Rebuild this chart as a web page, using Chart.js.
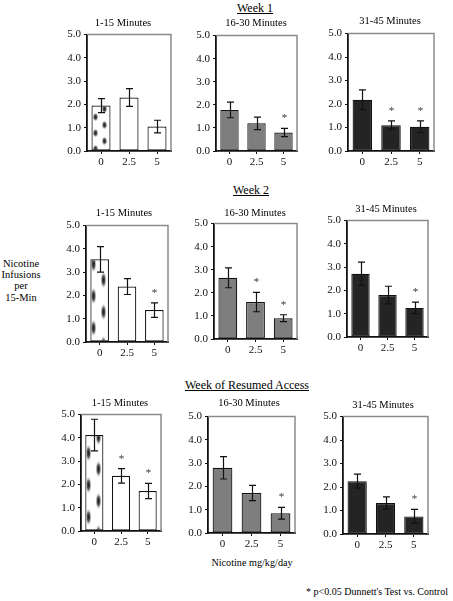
<!DOCTYPE html>
<html>
<head>
<meta charset="utf-8">
<script src="https://cdn.jsdelivr.net/npm/chart.js@4.4.1/dist/chart.umd.min.js"></script>
<style>
  html, body { margin:0; padding:0; background:#fff; }
  body { width:453px; height:601px; position:relative; overflow:hidden; font-family:"Liberation Serif","Times New Roman",serif; color:#000; }
  canvas { position:absolute; }
  .t { position:absolute; white-space:nowrap; transform:translate(-50%,-50%); line-height:1; }
  .hdr { font-size:12px; text-decoration:underline; }
  .pt { font-size:10.5px; }
</style>
</head>
<body>
<div class="t hdr" style="left:255px;top:8px;">Week 1</div>
<div class="t hdr" style="left:251px;top:190px;">Week 2</div>
<div class="t hdr" style="left:247px;top:385px;">Week of Resumed Access</div>
<div class="t" style="left:21px;top:280px;font-size:10.5px;text-align:center;line-height:11.2px;">Nicotine<br>Infusions<br>per<br>15-Min</div>
<div class="t" style="left:252px;top:563px;font-size:10.2px;">Nicotine mg/kg/day</div>
<div class="t" style="left:377px;top:592px;font-size:10px;">* p&lt;0.05 Dunnett's Test vs. Control</div>

<script>
// ---------- data ----------
const doses = ['0', '2.5', '5'];
const yTickValues = [0, 1, 2, 3, 4, 5];
const periods = ['1-15 Minutes', '16-30 Minutes', '31-45 Minutes'];

const week1_1to15  = [1.95, 2.30, 1.05];
const week1_1to15_sem  = [0.30, 0.38, 0.27];
const week1_16to30 = [1.78, 1.20, 0.80];
const week1_16to30_sem = [0.34, 0.27, 0.18];
const week1_31to45 = [2.18, 1.10, 1.03];
const week1_31to45_sem = [0.42, 0.18, 0.25];

const week2_1to15  = [3.55, 2.38, 1.37];
const week2_1to15_sem  = [0.55, 0.34, 0.31];
const week2_16to30 = [2.65, 1.60, 0.90];
const week2_16to30_sem = [0.43, 0.42, 0.15];
const week2_31to45 = [2.72, 1.80, 1.25];
const week2_31to45_sem = [0.50, 0.38, 0.25];

const resumed_1to15  = [4.12, 2.37, 1.72];
const resumed_1to15_sem  = [0.68, 0.31, 0.33];
const resumed_16to30 = [2.80, 1.72, 0.85];
const resumed_16to30_sem = [0.48, 0.33, 0.25];
const resumed_31to45 = [2.25, 1.32, 0.75];
const resumed_31to45_sem = [0.30, 0.26, 0.30];

// significance vs control (p<0.05)
const week1_sig   = [[false,false,false],[false,false,true],[false,true,true]];
const week2_sig   = [[false,false,true],[false,true,true],[false,false,true]];
const resumed_sig = [[false,true,true],[false,false,true],[false,false,true]];

// ---------- layout (plot-area boxes in page px) ----------
const panels = [
  {box:{l:87,t:33,r:171,b:151},  title:{x:123,y:23}, period:0, pat:'short', values:week1_1to15,  sem:week1_1to15_sem,  sig:week1_sig[0]},
  {box:{l:216,t:34,r:297,b:151}, title:{x:256,y:23}, period:1, values:week1_16to30, sem:week1_16to30_sem, sig:week1_sig[1]},
  {box:{l:348,t:32,r:434,b:151}, title:{x:390,y:21}, period:2, values:week1_31to45, sem:week1_31to45_sem, sig:week1_sig[2]},
  {box:{l:86,t:224,r:168,b:342}, title:{x:124,y:213}, period:0, pat:'long', values:week2_1to15,  sem:week2_1to15_sem,  sig:week2_sig[0]},
  {box:{l:214,t:222,r:297,b:339},title:{x:255,y:213}, period:1, values:week2_16to30, sem:week2_16to30_sem, sig:week2_sig[1]},
  {box:{l:347,t:219,r:428,b:337},title:{x:386,y:209}, period:2, values:week2_31to45, sem:week2_31to45_sem, sig:week2_sig[2]},
  {box:{l:81,t:413,r:161,b:531}, title:{x:120,y:403}, period:0, pat:'long', values:resumed_1to15,  sem:resumed_1to15_sem,  sig:resumed_sig[0]},
  {box:{l:208,t:415,r:295,b:533},title:{x:249,y:403}, period:1, values:resumed_16to30, sem:resumed_16to30_sem, sig:resumed_sig[1]},
  {box:{l:343,t:415,r:428,b:534},title:{x:383,y:405}, period:2, values:resumed_31to45, sem:resumed_31to45_sem, sig:resumed_sig[2]}
];

const FONT = '"Liberation Serif","Times New Roman",serif';
const BAR_PCT = 0.68;

function makePattern(kind) {
  const c = document.createElement('canvas');
  const long = kind === 'long';
  c.width = 18; c.height = long ? 32 : 16;
  const g = c.getContext('2d');
  g.fillStyle = '#fff';
  g.fillRect(0, 0, c.width, c.height);
  const H = c.height, W = c.width;
  const base = long ? [[3.5, 8], [13.5, 24]] : [[4.5, 4], [13.5, 12]];
  const blobs = [];
  base.forEach(([x, y]) => {
    for (let dx = -1; dx <= 1; dx++) for (let dy = -1; dy <= 1; dy++) blobs.push([x + dx * W, y + dy * H]);
  });
  const sy = long ? 2.8 : 1.5;
  const r = 3.3;
  blobs.forEach(([x, y]) => {
    g.save();
    g.translate(x, y);
    g.scale(1, sy);
    const rg = g.createRadialGradient(0, 0, 0, 0, 0, r);
    rg.addColorStop(0, 'rgba(20,20,20,1)');
    rg.addColorStop(0.45, 'rgba(50,50,50,0.8)');
    rg.addColorStop(1, 'rgba(255,255,255,0)');
    g.fillStyle = rg;
    g.beginPath(); g.arc(0, 0, r, 0, Math.PI * 2); g.fill();
    g.restore();
  });
  return c;
}
const patterns = { short: makePattern('short'), long: makePattern('long') };

const errorPlugin = {
  id: 'errorBars',
  afterDatasetsDraw(chart, args, opts) {
    const ctx = chart.ctx;
    const ys = chart.scales.y;
    const meta = chart.getDatasetMeta(0);
    const vals = chart.data.datasets[0].data;
    ctx.save();
    ctx.strokeStyle = '#111';
    ctx.lineWidth = 1.2;
    meta.data.forEach((el, i) => {
      const v = vals[i], e = opts.sem[i];
      const x = Math.round(el.x) + 0.5;
      const yt = ys.getPixelForValue(v + e);
      const yb = ys.getPixelForValue(v - e);
      ctx.beginPath();
      ctx.moveTo(x, yt); ctx.lineTo(x, yb);
      ctx.moveTo(x - 3.5, yt); ctx.lineTo(x + 3.5, yt);
      ctx.moveTo(x - 3.5, yb); ctx.lineTo(x + 3.5, yb);
      ctx.stroke();
      if (opts.sig[i]) {
        ctx.fillStyle = '#333';
        ctx.font = '11px ' + FONT;
        ctx.textAlign = 'center';
        ctx.textBaseline = 'middle';
        ctx.fillText('*', x, yt - 10);
      }
    });
    // top & right frame
    const a = chart.chartArea;
    ctx.strokeStyle = '#8a8a8a';
    ctx.lineWidth = 1.5;
    ctx.beginPath();
    ctx.moveTo(a.left, a.top); ctx.lineTo(a.right, a.top); ctx.lineTo(a.right, a.bottom);
    ctx.stroke();
    ctx.restore();
  }
};

const PADL = 45, PADT = 8, PADR = 4, PADB = 22;

panels.forEach((p) => {
  const b = p.box;
  const cw = (b.r - b.l) + PADL + PADR;
  const ch = (b.b - b.t) + PADT + PADB;
  const canvas = document.createElement('canvas');
  canvas.width = cw; canvas.height = ch;
  canvas.style.left = (b.l - PADL) + 'px';
  canvas.style.top = (b.t - PADT) + 'px';
  canvas.style.width = cw + 'px';
  canvas.style.height = ch + 'px';
  document.body.appendChild(canvas);

  const title = document.createElement('div');
  title.className = 't pt';
  title.style.left = p.title.x + 'px';
  title.style.top = p.title.y + 'px';
  title.textContent = periods[p.period];
  document.body.appendChild(title);

  const ctx = canvas.getContext('2d');
  let colors;
  if (p.period === 0) {
    const pat = ctx.createPattern(patterns[p.pat], 'repeat');
    const catW = (b.r - b.l) / doses.length;
    const barLeft = PADL + catW * (1 - BAR_PCT) / 2;
    pat.setTransform(new DOMMatrix().translate(Math.round(barLeft), PADT));
    colors = [pat, '#ffffff', '#ffffff'];
  }
  else if (p.period === 1) colors = ['#7e7e7e', '#7e7e7e', '#7e7e7e'];
  else colors = ['#242424', '#242424', '#242424'];

  new Chart(canvas, {
    type: 'bar',
    data: {
      labels: doses,
      datasets: [{
        data: p.values,
        backgroundColor: colors,
        borderColor: '#111',
        borderWidth: 1.2,
        borderSkipped: false,
        barPercentage: BAR_PCT,
        categoryPercentage: 1.0
      }]
    },
    options: {
      responsive: false,
      animation: false,
      devicePixelRatio: 1,
      layout: { padding: { left: 0, top: PADT, right: PADR, bottom: 0 } },
      plugins: {
        legend: { display: false },
        title: { display: false },
        tooltip: { enabled: false },
        errorBars: { sem: p.sem, sig: p.sig }
      },
      scales: {
        y: {
          min: 0, max: 5,
          afterFit(s) { s.width = PADL; },
          afterBuildTicks(s) { s.ticks = yTickValues.map(v => ({ value: v })); },
          ticks: {
            callback: v => Number(v).toFixed(1),
            font: { family: FONT, size: 11 },
            color: '#111',
            padding: 3
          },
          grid: { display: true, drawOnChartArea: false, drawTicks: true, tickLength: 3, color: '#111' },
          border: { display: true, color: '#111', width: 1.8 }
        },
        x: {
          afterFit(s) { s.height = PADB; },
          ticks: {
            font: { family: FONT, size: 11 },
            color: '#111',
            padding: 2
          },
          grid: { display: true, drawOnChartArea: false, drawTicks: true, tickLength: 3, offset: false, color: '#111' },
          border: { display: true, color: '#111', width: 1.8 }
        }
      }
    },
    plugins: [errorPlugin]
  });
});
</script>
</body>
</html>
